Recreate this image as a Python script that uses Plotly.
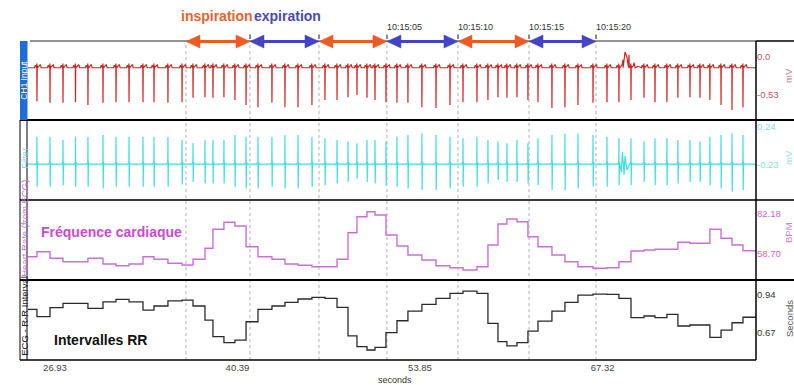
import plotly.graph_objects as go

# ---------------- data ----------------
view_start = 24.94
view_end = 78.63
x_range = [24.865, 78.63]

# R-peak times (seconds)
beat_times = [25.60, 26.56, 27.52, 28.44, 29.36, 30.47, 31.43, 32.39, 33.42, 34.23,
              35.26, 36.30, 37.11, 37.99, 38.58, 39.39, 40.20, 41.02, 41.90, 42.93,
              43.89, 44.85, 45.88, 46.84, 47.73, 48.54, 49.20, 49.94, 50.53, 51.34,
              52.15, 52.96, 53.99, 55.03, 56.06, 57.02, 58.05, 58.86, 59.60, 60.26,
              61.00, 61.81, 62.55, 63.58, 64.54, 65.50, 66.61, 67.64, 68.52, 69.41,
              70.37, 71.18, 72.06, 72.87, 73.76, 74.50, 75.23, 76.05, 76.86, 77.67]

# CH1 input: depth of each QRS spike (mV)
red_depth = [-0.62, -0.64, -0.64, -0.63, -0.67, -0.64, -0.63, -0.63, -0.63, -0.63,
             -0.64, -0.63, -0.57, -0.56, -0.57, -0.56, -0.60, -0.67, -0.70, -0.64,
             -0.70, -0.70, -0.67, -0.60, -0.60, -0.56, -0.53, -0.57, -0.60, -0.63,
             -0.64, -0.64, -0.70, -0.71, -0.67, -0.63, -0.63, -0.60, -0.56, -0.57,
             -0.56, -0.60, -0.63, -0.71, -0.70, -0.67, -0.64, -0.63, -0.63, -0.60,
             -0.57, -0.63, -0.63, -0.57, -0.56, -0.57, -0.60, -0.67, -0.74, -0.70]
red_baseline = -0.15
# movement artefact on CH1
artefact_t = [68.60, 68.82, 68.97, 69.11, 69.26, 69.63, 69.92]
artefact_red = [-0.15, -0.04, 0.07, 0.0, 0.03, -0.08, -0.13]

# Filtered ECG: positive and negative peak of each beat (mV)
cyan_up = [0.12, 0.12, 0.08, 0.12, 0.12, 0.14, 0.12, 0.12, 0.12, 0.12,
           0.12, 0.08, 0.04, 0.08, 0.08, 0.08, 0.14, 0.12, 0.12, 0.12,
           0.14, 0.14, 0.12, 0.10, 0.08, 0.06, 0.04, 0.08, 0.08, 0.06,
           0.12, 0.14, 0.16, 0.14, 0.12, 0.10, 0.12, 0.08, 0.06, 0.04,
           0.08, 0.04, 0.10, 0.14, 0.16, 0.16, 0.14, 0.12, 0.10, 0.10,
           0.06, 0.10, 0.10, 0.08, 0.08, 0.06, 0.12, 0.14, 0.16, 0.14]
cyan_down = [-0.50, -0.50, -0.48, -0.50, -0.50, -0.52, -0.50, -0.50, -0.50, -0.50,
             -0.50, -0.47, -0.44, -0.46, -0.46, -0.46, -0.50, -0.52, -0.52, -0.50,
             -0.52, -0.52, -0.50, -0.48, -0.46, -0.44, -0.40, -0.44, -0.46, -0.48,
             -0.50, -0.52, -0.54, -0.54, -0.52, -0.50, -0.50, -0.46, -0.42, -0.44,
             -0.44, -0.46, -0.48, -0.54, -0.54, -0.52, -0.50, -0.50, -0.48, -0.48,
             -0.44, -0.48, -0.48, -0.46, -0.44, -0.44, -0.48, -0.52, -0.56, -0.54]
cyan_baseline = -0.22
artefact_cyan_t = [68.55, 68.70, 68.78, 68.90, 68.97, 69.11]
artefact_cyan = [-0.11, -0.32, -0.07, -0.35, -0.12, -0.29]

# Heart rate (BPM) for each interval between view_start, beats, view_end
heart_rate = [57.11, 60.05, 56.17, 54.18, 54.18, 56.17, 52.83, 51.83, 52.83, 57.11,
              55.59, 53.24, 52.24, 55.59, 62.05, 73.20, 77.31, 75.14, 62.99, 57.11,
              55.59, 52.83, 52.07, 51.24, 51.24, 55.59, 71.20, 80.60, 83.53, 81.59,
              69.85, 63.40, 58.11, 55.18, 51.83, 50.66, 49.31, 51.24, 63.98, 76.31,
              79.25, 77.66, 68.85, 62.99, 58.11, 54.18, 51.24, 50.31, 50.66, 54.18,
              60.46, 61.05, 61.46, 61.46, 65.57, 64.98, 64.98, 73.20, 67.92, 63.98, 60.64]

# R-R intervals (seconds)
rr_interval = [0.838, 0.786, 0.850, 0.881, 0.881, 0.845, 0.892, 0.909, 0.892, 0.833,
               0.862, 0.899, 0.904, 0.862, 0.762, 0.644, 0.601, 0.620, 0.750, 0.838,
               0.862, 0.888, 0.912, 0.924, 0.917, 0.853, 0.649, 0.573, 0.549, 0.568,
               0.672, 0.757, 0.826, 0.874, 0.917, 0.952, 0.968, 0.952, 0.739, 0.608,
               0.578, 0.601, 0.684, 0.755, 0.826, 0.888, 0.940, 0.947, 0.945, 0.917,
               0.779, 0.791, 0.779, 0.803, 0.720, 0.727, 0.727, 0.639, 0.691, 0.743, 0.782]

# breathing phases
phase_bounds = [36.59, 41.31, 46.40, 51.41, 56.65, 61.89, 66.83]
phase_names = ["inspiration", "expiration", "inspiration", "expiration", "inspiration", "expiration"]
clock_labels = ["10:15:05", "10:15:10", "10:15:15", "10:15:20"]
clock_at = [51.41, 56.65, 61.89, 66.83]

x_tick_vals = [26.93, 40.39, 53.85, 67.32]
x_tick_text = ["26.93", "40.39", "53.85", "67.32"]

# ---------------- styling helpers ----------------
FONT = "Arial, Liberation Sans, sans-serif"
W, H = 794, 385
ML, MR, MT, MB = 27, 38, 41, 25
PW, PH = W - ML - MR, H - MT - MB


def px_x(px):
    return (px - ML) / PW


def px_y(py):
    return (H - MB - py) / PH


RED_SHAPE = [(-0.18, 0.0), (-0.13, 0.035), (-0.08, 0.0), (-0.03, 0.0), (-0.012, 0.06),
             (0.0, None), (0.018, 0.03), (0.05, 0.0), (0.18, 0.03), (0.24, 0.045), (0.31, 0.0)]
CYAN_SHAPE = [(-0.10, 0.0), (-0.05, 0.015), (-0.012, 0.0), (0.0, "up"), (0.015, "down"),
              (0.035, 0.03), (0.07, 0.0)]

pts = [(view_start, red_baseline), (view_end, red_baseline)]
for t, d in zip(beat_times, red_depth):
    for dt, dv in RED_SHAPE:
        pts.append((t + dt, d if dv is None else red_baseline + dv))
pts += list(zip(artefact_t, artefact_red))
pts.sort()
red_x = [p[0] for p in pts]
red_y = [p[1] for p in pts]

pts = [(view_start, cyan_baseline), (view_end, cyan_baseline)]
for t, u, d in zip(beat_times, cyan_up, cyan_down):
    for dt, dv in CYAN_SHAPE:
        if dv == "up":
            v = u
        elif dv == "down":
            v = d
        else:
            v = cyan_baseline + dv
        pts.append((t + dt, v))
pts += list(zip(artefact_cyan_t, artefact_cyan))
pts.sort()
cy_x = [p[0] for p in pts]
cy_y = [p[1] for p in pts]

step_x = [view_start] + beat_times + [view_end]

fig = go.Figure()
fig.add_trace(go.Scatter(x=red_x, y=red_y, mode="lines", line=dict(color="#D42222", width=1.2),
                         yaxis="y", hoverinfo="skip"))
fig.add_trace(go.Scatter(x=cy_x, y=cy_y, mode="lines", line=dict(color="#3EDEDE", width=1.2),
                         yaxis="y2", hoverinfo="skip"))
fig.add_trace(go.Scatter(x=step_x, y=heart_rate + [heart_rate[-1]], mode="lines", line_shape="hv",
                         line=dict(color="#C96FD8", width=1.4), yaxis="y3", hoverinfo="skip"))
fig.add_trace(go.Scatter(x=step_x, y=rr_interval + [rr_interval[-1]], mode="lines", line_shape="hv",
                         line=dict(color="#2A2A2A", width=1.3), yaxis="y4", hoverinfo="skip"))

# panel boundaries in pixel rows
panels = [(41, 120), (120, 200), (200, 280), (280, 360)]
y_ranges = [[-0.879, 0.223], [-0.663, 0.327], [43.44, 90.40], [0.478, 1.047]]
y_ticks = [([0.0, -0.53], ["0.0", "-0.53"], "#B35E5E"),
           ([0.24, -0.23], ["0.24", "-0.23"], "#7FE0E6"),
           ([82.18, 58.70], ["82.18", "58.70"], "#C56AD6"),
           ([0.94, 0.67], ["0.94", "0.67"], "#333333")]

layout_axes = {}
for i, ((top, bot), rng, (tv, tt, col)) in enumerate(zip(panels, y_ranges, y_ticks)):
    name = "yaxis" if i == 0 else f"yaxis{i + 1}"
    layout_axes[name] = dict(domain=[px_y(bot), px_y(top)], range=rng, anchor="x", side="right",
                             showgrid=False, zeroline=False, showline=False, ticks="",
                             tickvals=tv, ticktext=tt, tickfont=dict(family=FONT, size=9.5, color=col),
                             fixedrange=True)

shapes = []
# dotted phase boundaries
for b in phase_bounds:
    shapes.append(dict(type="line", xref="x", yref="paper", x0=b, x1=b, y0=0, y1=1,
                       line=dict(color="#B0B0B0", width=1, dash="dot"), layer="below"))
# frame
shapes.append(dict(type="line", xref="paper", yref="paper", x0=px_x(30), x1=1, y0=1, y1=1,
                   line=dict(color="#707070", width=1.5)))
shapes.append(dict(type="line", xref="paper", yref="paper", x0=1, x1=px_x(794), y0=1, y1=1,
                   line=dict(color="#000", width=1.5)))
for py, col in [(120, "#000"), (200, "#3A3A3A"), (280, "#000")]:
    shapes.append(dict(type="line", xref="paper", yref="paper", x0=px_x(20), x1=px_x(794),
                       y0=px_y(py), y1=px_y(py), line=dict(color=col, width=2.2)))
shapes.append(dict(type="line", xref="paper", yref="paper", x0=px_x(20), x1=1, y0=0, y1=0,
                   line=dict(color="#000", width=1.5)))
shapes.append(dict(type="line", xref="paper", yref="paper", x0=1, x1=1, y0=0, y1=1,
                   line=dict(color="#000", width=1.5)))
for px in (20, 27):
    shapes.append(dict(type="line", xref="paper", yref="paper", x0=px_x(px), x1=px_x(px), y0=0,
                       y1=px_y(120), line=dict(color="#000", width=1)))
shapes.append(dict(type="rect", xref="paper", yref="paper", x0=px_x(20), x1=px_x(27.5),
                   y0=px_y(120), y1=px_y(41), fillcolor="#1F6ED4", line=dict(width=0)))

# breathing arrows
PXS = PW / (x_range[1] - x_range[0])  # pixels per second
head_len = 14 / PXS
head_h = 6.5 / PH
ay = px_y(41.5)
colors = {"inspiration": "#EE5A24", "expiration": "#4343C4"}
for a, b, nm in zip(phase_bounds[:-1], phase_bounds[1:], phase_names):
    c = colors[nm]
    shapes.append(dict(type="line", xref="x", yref="paper", x0=a + head_len * 0.8, x1=b - head_len * 0.8,
                       y0=ay, y1=ay, line=dict(color=c, width=3)))
    shapes.append(dict(type="path", xref="x", yref="paper",
                       path=f"M {a} {ay} L {a + head_len} {ay + head_h} L {a + head_len} {ay - head_h} Z",
                       fillcolor=c, line=dict(color=c, width=0.5)))
    shapes.append(dict(type="path", xref="x", yref="paper",
                       path=f"M {b} {ay} L {b - head_len} {ay + head_h} L {b - head_len} {ay - head_h} Z",
                       fillcolor=c, line=dict(color=c, width=0.5)))
for b in phase_bounds[1:]:
    shapes.append(dict(type="rect", xref="x", yref="paper", x0=b - 1.0 / PXS, x1=b + 1.0 / PXS,
                       y0=px_y(39), y1=px_y(34.5), fillcolor="#8A8A8A", line=dict(width=0)))

ann = []
ann.append(dict(text="<b>inspiration</b>", x=px_x(217), y=px_y(16), xref="paper", yref="paper",
                xanchor="center", yanchor="middle",
                showarrow=False, font=dict(family=FONT, size=14, color="#E8632E")))
ann.append(dict(text="<b>expiration</b>", x=px_x(287), y=px_y(16), xref="paper", yref="paper",
                xanchor="center", yanchor="middle",
                showarrow=False, font=dict(family=FONT, size=14, color="#4A4AB5")))
for lbl, t in zip(clock_labels, clock_at):
    ann.append(dict(text=lbl, x=t, y=px_y(27.5), xref="x", yref="paper", xanchor="left",
                    yanchor="middle", xshift=-2, showarrow=False,
                    font=dict(family=FONT, size=9, color="#333")))
ann.append(dict(text="<b>Fréquence cardiaque</b>", x=px_x(39), y=px_y(232), xref="paper", yref="paper",
                xanchor="left", yanchor="middle", showarrow=False,
                font=dict(family=FONT, size=14, color="#C84CCF")))
ann.append(dict(text="<b>Intervalles RR</b>", x=px_x(52), y=px_y(340), xref="paper", yref="paper",
                xanchor="left", yanchor="middle", showarrow=False,
                font=dict(family=FONT, size=14, color="#111")))
ann.append(dict(text="seconds", x=px_x(395), y=px_y(380), xref="paper", yref="paper",
                xanchor="center", yanchor="middle", showarrow=False,
                font=dict(family=FONT, size=9, color="#333")))
# left channel labels
for txt, py, col, sz in [("CH1 Input", 80, "#FFFFFF", 8.5), ("Filter", 158, "#7FDDE6", 9.5),
                         ("Heart Rate (from ECG)", 228, "#C77AD6", 9.5),
                         ("ECG - R-R Interval", 316, "#222", 9.5)]:
    ann.append(dict(text=txt, x=px_x(23.8), y=px_y(py), xref="paper", yref="paper", textangle=-90,
                    xanchor="center", yanchor="middle",
                    showarrow=False, font=dict(family=FONT, size=sz, color=col)))
# right unit labels
for txt, py, col, px in [("mV", 76, "#C27A7A", 788), ("mV", 158, "#8FE0E6", 788),
                         ("BPM", 233, "#CC80DD", 788), ("Seconds", 318, "#555", 789)]:
    ann.append(dict(text=txt, x=px_x(px), y=px_y(py), xref="paper", yref="paper", textangle=-90,
                    xanchor="center", yanchor="middle",
                    showarrow=False, font=dict(family=FONT, size=9.5, color=col)))

fig.update_layout(
    width=W, height=H, margin=dict(l=ML, r=MR, t=MT, b=MB),
    paper_bgcolor="white", plot_bgcolor="white", showlegend=False,
    xaxis=dict(domain=[0, 1], range=x_range, anchor="y4", showgrid=False, zeroline=False,
               showline=False, ticks="", tickvals=x_tick_vals, ticktext=x_tick_text,
               tickfont=dict(family=FONT, size=9.5, color="#444"), fixedrange=True),
    shapes=shapes, annotations=ann,
    **layout_axes,
)

fig.write_html("out.html", config={"displayModeBar": False},
               post_script="document.body.style.margin='0';document.body.style.overflow='hidden';")
